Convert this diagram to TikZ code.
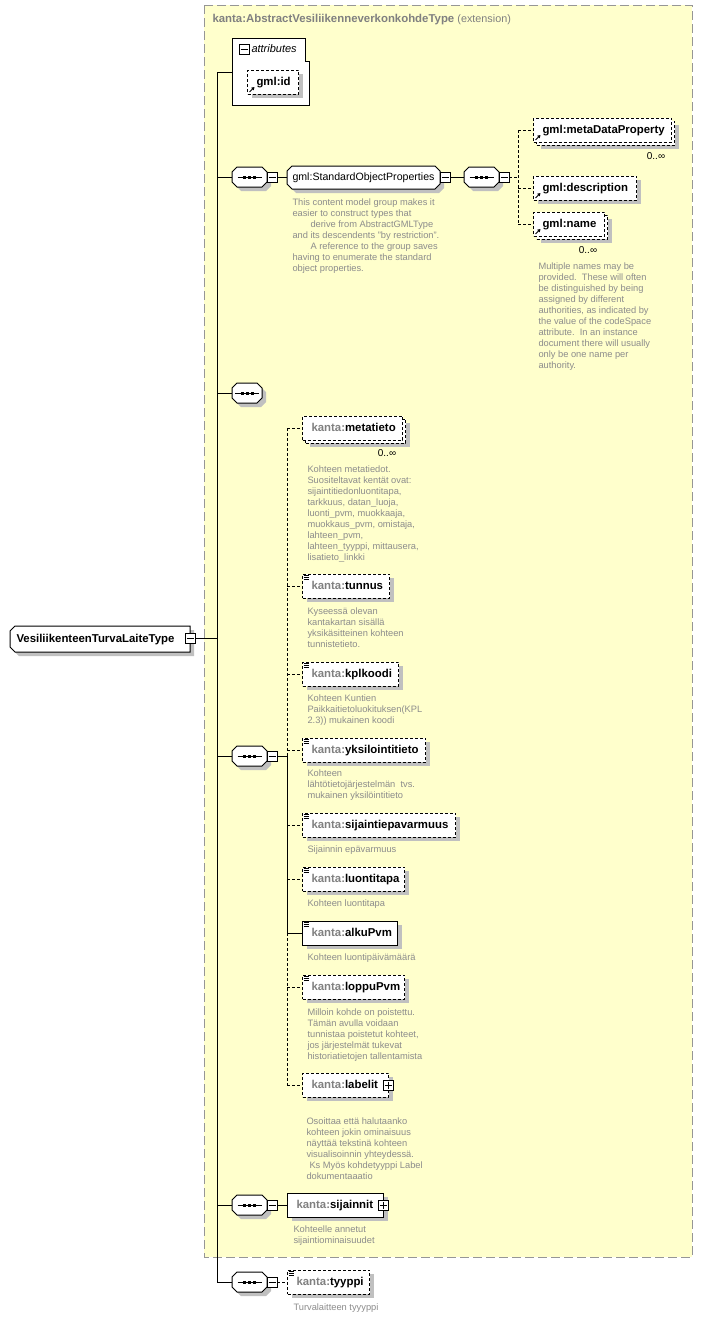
\documentclass[tikz,border=0pt]{standalone}
\usepackage{fontspec}
\setmainfont{Liberation Sans}
\usetikzlibrary{shadows,arrows.meta,calc}
\definecolor{bgy}{RGB}{255,255,204}
\definecolor{shc}{RGB}{192,192,192}
\definecolor{kgray}{RGB}{128,128,128}
\definecolor{agray}{RGB}{140,140,140}
\definecolor{egray}{RGB}{150,150,150}
\tikzset{
 dsh/.style={dash pattern=on 3pt off 2pt},
 ebox/.style={draw, fill=white, line width=1pt, minimum height=24pt, inner sep=0pt},
 esh/.style={drop shadow={shadow xshift=4pt, shadow yshift=-4pt, fill=shc, opacity=1}},
 etext/.style={inner sep=0pt, font=\fontsize{11.4}{13}\selectfont\bfseries, text height=8pt, text depth=2pt},
 ann/.style={anchor=north west, inner sep=0pt, align=left, font=\fontsize{9.3}{11}\selectfont, text=agray},
 mult/.style={inner sep=0pt, font=\fontsize{10}{12}\selectfont},
 pmb/.style={draw, fill=white, line width=0.8pt, minimum size=10pt, inner sep=0pt},
 hid/.style={inner sep=0pt, outer sep=0pt},
}
\newcommand\kn[1]{{\color{kgray}kanta:}#1}
\newcommand\octa[5]{%
 \fill[shc] (#1+#5+4,#2+4) -- (#3-#5+4,#2+4) -- (#3+4,#2+#5+4) -- (#3+4,#4-#5+4) -- (#3-#5+4,#4+4) -- (#1+#5+4,#4+4) -- (#1+4,#4-#5+4) -- (#1+4,#2+#5+4) -- cycle;
 \draw[fill=white] (#1+#5,#2) -- (#3-#5,#2) -- (#3,#2+#5) -- (#3,#4-#5) -- (#3-#5,#4) -- (#1+#5,#4) -- (#1,#4-#5) -- (#1,#2+#5) -- cycle;}
\newcommand\seqn[4]{%
 \octa{#2}{#3-10}{#2+#4}{#3+10}{5}%
 \node[hid,minimum width=#4pt,minimum height=20pt,anchor=west] (#1) at (#2,#3) {};
 \draw ($(#1.center)+(-12,0)$) -- ($(#1.center)+(12,0)$);
 \foreach \dx in {-5,0,5} \fill ($(#1.center)+(\dx-1.5,-1.5)$) rectangle +(3,3);
}
\newcommand\minusb[3]{\node[pmb] (#1) at (#2,#3) {};
 \draw[line width=0.8pt] ($(#1.center)+(-3.5,0)$) -- ($(#1.center)+(3.5,0)$);}
\newcommand\plusb[3]{\node[pmb] (#1) at (#2,#3) {};
 \draw[line width=0.8pt] ($(#1.center)+(-3.5,0)$) -- ($(#1.center)+(3.5,0)$);
 \draw[line width=0.8pt] ($(#1.center)+(0,-3.5)$) -- ($(#1.center)+(0,3.5)$);}
\newcommand\elbox[6]{%
 \node[ebox,#5,minimum width=#4pt,anchor=west] (#1) at (#2,#3) {};
 \node[etext,anchor=west] (#1t) at ($(#1.west)+(9,0)$) {#6};}
\newcommand\backbox[4]{\node[ebox,dsh,esh,minimum width=#4pt,anchor=west] (#1) at (#2,#3) {};}
\newcommand\simic[1]{\draw[line width=0.7pt] ($(#1.north west)+(1.5,1.5)$) -- +(5.5,0) ($(#1.north west)+(1.5,3.5)$) -- +(5.5,0) ($(#1.north west)+(1.5,5.5)$) -- +(5.5,0);}
\newcommand\refar[1]{\draw[line width=0.9pt,-{Triangle[length=3pt,width=3.5pt]}] ($(#1.south west)+(2.5,-2.5)$) -- +(5,-5);}
\begin{document}
\begin{tikzpicture}[x=1pt,y=-1pt,line width=1pt]
\useasboundingbox (0,0) rectangle (703,1317);
\fill[white] (0,0) rectangle (703,1317);
% extension area
\draw[draw=egray, fill=bgy, dash pattern=on 9pt off 4pt] (204,5) rectangle (692,1257);
\node[anchor=base west, inner sep=0pt, text=kgray, font=\fontsize{11.4}{13}\selectfont\bfseries] (title) at (212,22) {kanta:AbstractVesiliikenneverkonkohdeType \mdseries\fontsize{10.8}{13}\selectfont(extension)};

% root
\fill[shc] (19,630) -- (194,630) -- (194,656) -- (19,656) -- (14,651) -- (14,635) -- cycle;
\draw[fill=white] (15,626) -- (190,626) -- (190,652) -- (15,652) -- (10,647) -- (10,631) -- cycle;
\node[hid, minimum width=180pt, minimum height=26pt, anchor=north west] (root) at (10,626) {};
\node[etext, anchor=west] (roott) at (16,639) {VesiliikenteenTurvaLaiteType};
\minusb{rootm}{190}{638}

% trunk
\coordinate (tTop) at (217,72);
\coordinate (tBot) at (217,1282);
\draw (tTop) -- (tBot);
\draw (rootm.east) -- (rootm.east -| tTop);

% attributes
\draw[fill=white] (232,38) -- (305,38) -- (305,61) -- (309,61) -- (309,105) -- (232,105) -- cycle;
\node[hid, minimum width=77pt, minimum height=67pt, anchor=north west] (attr) at (232,38) {};
\minusb{attrm}{244}{49}
\node[anchor=west, inner sep=0pt, font=\fontsize{11}{13}\selectfont\itshape] (attrt) at (251,49) {attributes};
\draw (tTop) -- (tTop -| attr.west);
\elbox{gid}{247}{82}{51}{dsh,esh}{gml:id}
\refar{gid}

% sequence 1 with StandardObjectProperties
\seqn{s1}{232}{177}{35}
\minusb{s1m}{272}{177}
\draw (s1.west -| tTop) -- (s1.west);
\octa{287}{166}{440}{189}{5}
\node[hid, minimum width=153pt, minimum height=23pt, anchor=north west] (grp) at (287,166) {};
\node[anchor=west, inner sep=0pt, font=\fontsize{10.6}{13}\selectfont, text height=8pt, text depth=2pt] (grpt) at (292,177.5) {gml:StandardObjectProperties};
\minusb{grpm}{445}{177}
\draw (s1m.east) -- (grp.west |- s1m.east);
\seqn{s2}{464}{177}{35}
\minusb{s2m}{504}{177}
\draw (grpm.east) -- (s2.west);
\node[ann] (agrp) at (292,198) {This content model group makes it\\easier to construct types that\\\hspace*{18pt}derive from AbstractGMLType\\and its descendents "by restriction".\\\hspace*{18pt}A reference to the group saves\\having to enumerate the standard\\object properties.};

\backbox{mdpb}{536}{133}{138}
\elbox{mdp}{533}{130}{138}{dsh}{gml:metaDataProperty}
\refar{mdp}
\node[mult] (mdpmu) at (656,156) {0..∞};
\elbox{desc}{533}{188}{103}{dsh,esh}{gml:description}
\refar{desc}
\backbox{namb}{536}{227}{71}
\elbox{nam}{533}{224}{71}{dsh}{gml:name}
\refar{nam}
\node[mult] (nammu) at (588,250) {0..∞};
\node[ann] (anam) at (538,262) {Multiple names may be\\provided.\ \ These will often\\be distinguished by being\\assigned by different\\authorities, as indicated by\\the value of the codeSpace\\attribute.\ \ In an instance\\document there will usually\\only be one name per\\authority.};
\coordinate (j2) at (518,177);
\draw[dsh] (s2m.east) -- (j2);
\draw[dsh] (mdp.west -| j2) -- (nam.west -| j2);
\draw[dsh] (mdp.west -| j2) -- (mdp.west);
\draw[dsh] (desc.west -| j2) -- (desc.west);
\draw[dsh] (nam.west -| j2) -- (nam.west);

% sequence 3
\seqn{s3}{232}{393}{30}
\draw (s3.west -| tTop) -- (s3.west);

% sequence 4
\seqn{s4}{232}{756}{35}
\minusb{s4m}{272}{756}
\draw (s4.west -| tTop) -- (s4.west);
\coordinate (j4) at (287,756);
\draw (s4m.east) -- (j4);

\backbox{metab}{305}{431}{100}
\elbox{meta}{302}{428}{100}{dsh}{\kn{metatieto}}
\node[mult] (metamu) at (387,453) {0..∞};
\node[ann] (ameta) at (307,465) {Kohteen metatiedot.\\Suositeltavat kentät ovat:\\sijaintitiedonluontitapa,\\tarkkuus, datan\_luoja,\\luonti\_pvm, muokkaaja,\\muokkaus\_pvm, omistaja,\\lahteen\_pvm,\\lahteen\_tyyppi, mittausera,\\lisatieto\_linkki};

\elbox{tun}{302}{586}{87}{dsh,esh}{\kn{tunnus}}
\simic{tun}
\node[ann] (atun) at (307,607) {Kyseessä olevan\\kantakartan sisällä\\yksikäsitteinen kohteen\\tunnistetieto.};

\elbox{kpl}{302}{674}{96}{dsh,esh}{\kn{kplkoodi}}
\simic{kpl}
\node[ann] (akpl) at (307,694) {Kohteen Kuntien\\Paikkaitietoluokituksen(KPL\\2.3)) mukainen koodi};

\elbox{yks}{302}{750}{123}{dsh,esh}{\kn{yksilointitieto}}
\simic{yks}
\node[ann] (ayks) at (307,769) {Kohteen\\lähtötietojärjestelmän\ \ tvs.\\mukainen yksilöintitieto};

\elbox{sep}{302}{825}{153}{dsh,esh}{\kn{sijaintiepavarmuus}}
\simic{sep}
\node[ann] (asep) at (307,845) {Sijainnin epävarmuus};

\elbox{lt}{302}{879}{102}{dsh,esh}{\kn{luontitapa}}
\simic{lt}
\node[ann] (alt) at (307,899) {Kohteen luontitapa};

\elbox{alku}{302}{933}{95}{esh}{\kn{alkuPvm}}
\simic{alku}
\node[ann] (aalku) at (307,953) {Kohteen luontipäivämäärä};

\elbox{lop}{302}{987}{102}{dsh,esh}{\kn{loppuPvm}}
\simic{lop}
\node[ann] (alop) at (307,1008) {Milloin kohde on poistettu.\\Tämän avulla voidaan\\tunnistaa poistetut kohteet,\\jos järjestelmät tukevat\\historiatietojen tallentamista};

\elbox{lab}{302}{1085}{86}{dsh,esh}{\kn{labelit}}
\plusb{labp}{388}{1085}
\node[ann] (alab) at (306,1117) {Osoittaa että halutaanko\\kohteen jokin ominaisuus\\näyttää tekstinä kohteen\\visualisoinnin yhteydessä.\\\hspace*{3pt}Ks Myös kohdetyyppi Label\\dokumentaaatio};

\draw[dsh] (meta.west -| j4) -- (j4);
\draw (j4) -- (alku.west -| j4);
\draw[dsh] (alku.west -| j4) -- (lab.west -| j4);
\foreach \e in {meta,tun,kpl,yks,sep,lt,lop,lab} \draw[dsh] (\e.west -| j4) -- (\e.west);
\draw (alku.west -| j4) -- (alku.west);

% sequence 5
\seqn{s5}{232}{1205}{35}
\minusb{s5m}{272}{1205}
\draw (s5.west -| tTop) -- (s5.west);
\elbox{sij}{287}{1205}{96}{esh}{\kn{sijainnit}}
\plusb{sijp}{383.5}{1205}
\draw (s5m.east) -- (sij.west);
\node[ann] (asij) at (293,1225) {Kohteelle annetut\\sijaintiominaisuudet};

% sequence 6
\seqn{s6}{232}{1282}{35}
\minusb{s6m}{272}{1282}
\draw (tBot) -- (s6.west);
\elbox{typ}{287}{1282}{82}{dsh,esh}{\kn{tyyppi}}
\simic{typ}
\draw[dsh] (s6m.east) -- (typ.west);
\node[ann] (atyp) at (293,1303) {Turvalaitteen tyyyppi};
\end{tikzpicture}
\end{document}
